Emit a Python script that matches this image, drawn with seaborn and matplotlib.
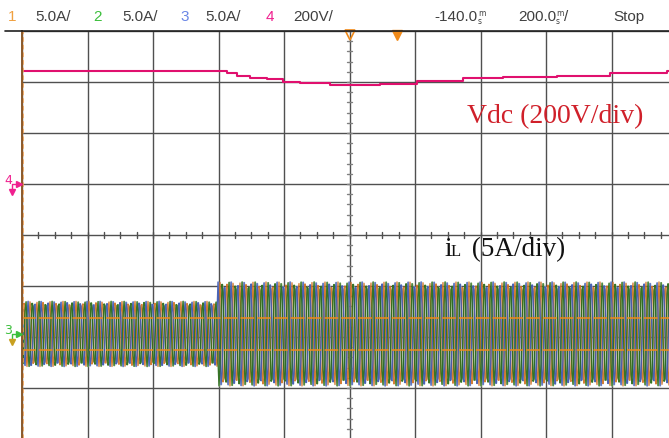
import numpy as np
import pandas as pd
import seaborn as sns
import matplotlib.pyplot as plt
from matplotlib.lines import Line2D

# Scope settings
channel_ids = ["1", "2", "3", "4"]
channel_scales = ["5.0A/", "5.0A/", "5.0A/", "200V/"]
channel_colors = ["#f0a040", "#3cbf3c", "#6a86e6", "#f0208f"]
time_offset_label = "-140.0"
time_scale_label = "200.0"
run_state = "Stop"

ms_per_div = 200
n_xdiv = 10
n_ydiv = 8

# DC link voltage (ch4, 200 V/div)
vdc_time_ms = [0, 589, 626, 656, 696, 748, 797, 849, 940, 1093, 1206, 1347, 1469, 1634, 1796, 1969, 2000]
vdc_volts = [443, 443, 435, 424, 416, 412, 400, 396, 390, 392, 404, 416, 420, 424, 435, 443, 443]
ch4_offset_div = 1.0

# Phase currents (ch1-3, 5 A/div), load step
ch3_offset_div = -1.94
step_time_ms = 598
amp_before_a = 3.2
amp_after_a = 5.1
grid_freq_hz = 50
phase_shift_deg = [0, -120, 120]
cursor_levels_a = [1.55, -1.55]

sns.set_style("white")

W, H = 669, 438
fig = plt.figure(figsize=(W / 100, H / 100), dpi=100)
ax_left, ax_top, div_w, div_h = 22, 31, 65.5, 51
ax = fig.add_axes([ax_left / W, 1 - (ax_top + n_ydiv * div_h) / H,
                   n_xdiv * div_w / W, n_ydiv * div_h / H])
ax.set_xlim(0, n_xdiv * ms_per_div)
ax.set_ylim(-n_ydiv / 2, n_ydiv / 2)
ax.set_xticks(np.arange(0, n_xdiv * ms_per_div + 1, ms_per_div))
ax.set_yticks(np.arange(-n_ydiv / 2, n_ydiv / 2 + 1))
ax.grid(True, color="#505050", lw=1.0)
ax.tick_params(length=0, labelbottom=False, labelleft=False)
ax.set_xlabel("")
ax.set_ylabel("")
for s in ["top", "right", "bottom"]:
    ax.spines[s].set_visible(False)
ax.spines["left"].set_color("#8b5a2b")
ax.spines["left"].set_linewidth(1.4)

# minor ticks on the centre cross
xc = n_xdiv * ms_per_div / 2
for xm in np.arange(0, n_xdiv * ms_per_div + 1, ms_per_div / 4):
    ax.plot([xm, xm], [-0.06, 0.06], color="#505050", lw=1)
for ym in np.arange(-n_ydiv / 2, n_ydiv / 2 + 0.01, 0.2):
    ax.plot([xc - 7, xc + 7], [ym, ym], color="#808080", lw=1)

# currents, one sample per screen pixel like the scope display
t = np.linspace(0, n_xdiv * ms_per_div, int(n_xdiv * div_w) + 1)
amp = np.where(t < step_time_ms, amp_before_a, amp_after_a)
rows = []
for cid, ph in zip(["1", "2", "3"], phase_shift_deg):
    i = amp * np.sin(2 * np.pi * grid_freq_hz * t / 1000 + np.deg2rad(ph))
    rows.append(pd.DataFrame({"t": t, "y": ch3_offset_div + i / 5, "ch": cid}))
cur = pd.concat(rows, ignore_index=True)
light_pal = {"1": "#e8c090", "2": "#a4cc94", "3": "#aebce6"}
dark_pal = {"1": "#d07020", "2": "#2a6a1a", "3": "#3e58b0"}
for cid in ["3", "2"]:
    sub = cur[cur.ch == cid].copy()
    sub["t"] = sub["t"] + 1.5
    sns.lineplot(data=sub, x="t", y="y", color=light_pal[cid], lw=1.0,
                 estimator=None, sort=False, ax=ax, legend=False)
for cid in ["1", "3", "2"]:
    sns.lineplot(data=cur[cur.ch == cid], x="t", y="y", color=dark_pal[cid],
                 lw=0.95, alpha=0.9, estimator=None, sort=False, ax=ax, legend=False)

for lv in cursor_levels_a:
    ax.axhline(ch3_offset_div + lv / 5, color="#f08a1a", lw=1.1, ls=(0, (9, 2)))

# DC link voltage
vdc = pd.DataFrame({"t": vdc_time_ms, "y": ch4_offset_div + np.array(vdc_volts) / 200})
sns.lineplot(data=vdc, x="t", y="y", color="#e0106e", lw=1.5, drawstyle="steps-post",
             estimator=None, ax=ax, legend=False)

# left edge cursor
ax.axvline(3, color="#f5a050", lw=1.1, ls=(0, (3, 2)))

# trigger markers
ax.plot([xc], [n_ydiv / 2 - 0.07], marker="v", ms=7, mfc="none", mec="#f08a1a", mew=1.2, clip_on=False)
ax.plot([1145], [n_ydiv / 2 - 0.07], marker="v", ms=7, color="#f08a1a", clip_on=False)

def fx(px):
    return px / W

def fy(py):
    return 1 - py / H

# top border
fig.add_artist(Line2D([fx(5), 1], [fy(31), fy(31)], color="#202020", lw=1.2))

# header
hdr = "#404040"
hfont = dict(fontsize=11, family="Liberation Sans", va="center")
num_x = [12, 97, 185, 270]
scale_x = [35, 122, 205, 293]
for cid, sc, col, nx, sx in zip(channel_ids, channel_scales, channel_colors, num_x, scale_x):
    fig.text(fx(nx), fy(17), cid, color=col, ha="center", **hfont)
    fig.text(fx(sx), fy(17), sc, color=hdr, ha="left", **hfont)
fig.text(fx(434), fy(17), time_offset_label, color=hdr, ha="left", **hfont)
fig.text(fx(478), fy(13), "m", color=hdr, ha="left", fontsize=5.5, va="center")
fig.text(fx(478), fy(21), "s", color=hdr, ha="left", fontsize=5.5, va="center")
fig.text(fx(518), fy(17), time_scale_label, color=hdr, ha="left", **hfont)
fig.text(fx(556), fy(13), "m", color=hdr, ha="left", fontsize=5.5, va="center")
fig.text(fx(556), fy(21), "s", color=hdr, ha="left", fontsize=5.5, va="center")
fig.text(fx(564), fy(17), "/", color=hdr, ha="left", **hfont)
fig.text(fx(613), fy(17), run_state, color=hdr, ha="left", **hfont)

# channel ground markers
for lbl, col, gcol, py in [("4", "#f0208f", "#f0208f", 184), ("3", "#3cbf3c", "#c8a020", 334)]:
    fig.text(fx(8), fy(py - 3), lbl, color=col, fontsize=9, ha="center", va="center")
    fig.add_artist(Line2D([fx(12), fx(12), fx(18)], [fy(py + 5), fy(py), fy(py)], color=col, lw=1))
    fig.add_artist(Line2D([fx(19)], [fy(py)], marker=">", ms=5, color=col))
    fig.add_artist(Line2D([fx(12)], [fy(py + 8)], marker="v", ms=5, color=gcol))

# annotations
fig.text(fx(467), fy(123), "Vdc (200V/div)", color="#d0202a", fontsize=20,
         family="Liberation Serif", va="baseline")
fig.text(fx(444), fy(256), "i", color="#111111", fontsize=19.5, family="Liberation Serif", va="baseline")
fig.text(fx(451), fy(256), "L", color="#111111", fontsize=12, family="Liberation Serif", va="baseline")
fig.text(fx(465), fy(256), " (5A/div)", color="#111111", fontsize=19.5, family="Liberation Serif",
         va="baseline")

fig.savefig("out.png", dpi=100)
